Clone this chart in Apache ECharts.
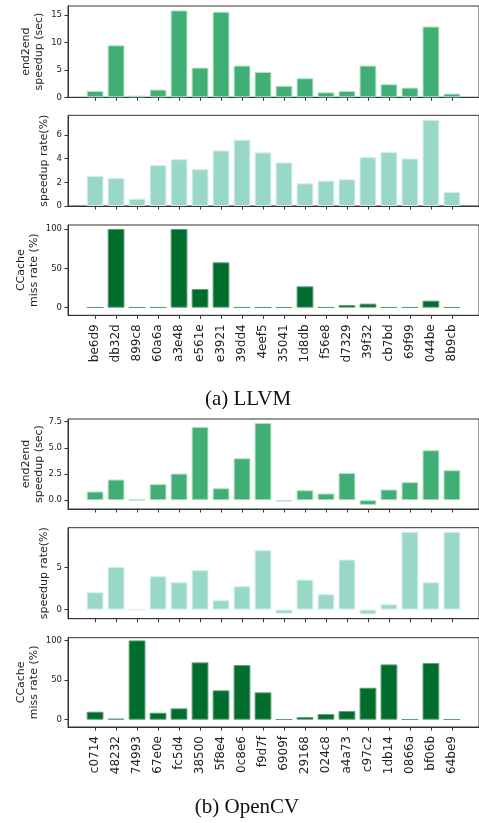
<!DOCTYPE html>
<html>
<head>
<meta charset="utf-8">
<script src="https://cdn.jsdelivr.net/npm/echarts@6/dist/echarts.min.js"></script>
<style>html,body{margin:0;padding:0;background:#fff}#c{width:479px;height:823px}</style>
</head>
<body>
<div id="c"></div>
<script>
// ---- data ----
const llvmCommits = ['be6d9','db32d','899c8','60a6a','a3e48','e561e','e3921','39dd4','4eef5','35041','1d8db','f56e8','d7329','39f32','cb7bd','69f99','044be','8b9cb'];
const llvmEnd2end = [1.15, 9.45, 0.3, 1.4, 15.8, 5.4, 15.55, 5.77, 4.6, 2.1, 3.46, 0.9, 1.15, 5.77, 2.37, 1.76, 12.87, 0.67];
const llvmRate = [2.55, 2.38, 0.62, 3.45, 3.96, 3.11, 4.7, 5.6, 4.53, 3.68, 1.92, 2.15, 2.26, 4.13, 4.56, 4.02, 7.3, 1.19];
const llvmMiss = [0.5, 100, 0.5, 0.5, 100, 23.7, 57.6, 0.5, 0.5, 0.5, 27.1, 0.5, 3.4, 5.1, 0.5, 0.5, 8.9, 0.5];

const cvCommits = ['c0714','48232','74993','67e0e','fc5d4','38500','5f8e4','0c8e6','f9d7f','6909f','29168','024c8','a4a73','c97c2','1db14','0866a','bf06b','64be9'];
const cvEnd2end = [0.83, 1.97, 0.06, 1.53, 2.54, 6.99, 1.14, 4.0, 7.37, -0.12, 0.95, 0.64, 2.6, -0.45, 1.02, 1.72, 4.77, 2.86];
const cvRate = [2.06, 5.08, 0, 3.97, 3.25, 4.68, 1.11, 2.78, 7.06, -0.48, 3.57, 1.83, 5.95, -0.56, 0.63, 9.25, 3.25, 9.25];
const cvMiss = [10.1, 1.3, 100, 8.8, 14.3, 72.3, 37, 68.9, 34.5, 0.5, 3.4, 7.1, 10.9, 40.3, 69.7, 0.5, 71.4, 0.5];

const ticksEnd2endLLVM = [0, 5, 10, 15];
const ticksRateLLVM = [0, 2, 4, 6];
const ticksMiss = [0, 50, 100];
const ticksEnd2endCV = [0, 2.5, 5, 7.5];
const ticksRateCV = [0, 5];

const nameEnd2end = 'end2end\nspeedup (sec)';
const nameRate = 'speedup rate(%)';
const nameMiss = 'CCache\nmiss rate (%)';
const captionA = '(a) LLVM';
const captionB = '(b) OpenCV';

// ---- layout ----
const C1 = '#41ae76', C2 = '#99d8c9', C3 = '#006d2c';
const E1 = '#b3e0c6', E2 = '#d6f0e9', E3 = '#5f9e79';
const panels = [
  {cats: llvmCommits, vals: llvmEnd2end, color: C1, edge: E1, top: 6, h: 91.3, ymin: 0, ymax: 16.6, ticks: ticksEnd2endLLVM, name: nameEnd2end, gap: 22, labels: false, fmt: v => String(v)},
  {cats: llvmCommits, vals: llvmRate, color: C2, edge: E2, top: 115.3, h: 90.7, ymin: 0, ymax: 7.67, ticks: ticksRateLLVM, name: nameRate, gap: 17, labels: false, fmt: v => String(v)},
  {cats: llvmCommits, vals: llvmMiss, color: C3, edge: E3, top: 225, h: 90.3, ymin: -9.7, ymax: 105, ticks: ticksMiss, name: nameMiss, gap: 27, labels: true, fmt: v => String(v)},
  {cats: cvCommits, vals: cvEnd2end, color: C1, edge: E1, top: 419, h: 90, ymin: -0.84, ymax: 7.75, ticks: ticksEnd2endCV, name: nameEnd2end, gap: 22, labels: false, fmt: v => v.toFixed(1)},
  {cats: cvCommits, vals: cvRate, color: C2, edge: E2, top: 527.7, h: 91, ymin: -1.08, ymax: 9.73, ticks: ticksRateCV, name: nameRate, gap: 17, labels: false, fmt: v => String(v)},
  {cats: cvCommits, vals: cvMiss, color: C3, edge: E3, top: 637.7, h: 89.3, ymin: -9.2, ymax: 103.4, ticks: ticksMiss, name: nameMiss, gap: 27, labels: true, fmt: v => String(v)}
];

const FONT = 'DejaVu Sans';
const grid = [], xAxis = [], yAxis = [], series = [];
panels.forEach((p, k) => {
  const n = p.cats.length;
  const idx = p.cats.map((_, i) => i);
  const span = (n - 1) + 0.8;
  grid.push({left: 68, right: -4, top: p.top, height: p.h, show: true, borderColor: '#333', borderWidth: 1, containLabel: false});
  xAxis.push({
    type: 'value', gridIndex: k, min: -0.4 - 0.05 * span, max: n - 1 + 0.4 + 0.05 * span,
    splitLine: {show: false},
    axisLine: {show: true, onZero: false, lineStyle: {color: '#333', width: 1}},
    axisTick: {show: true, customValues: idx, length: 3.5, lineStyle: {color: '#333'}},
    axisLabel: p.labels ? {show: true, customValues: idx, rotate: 90, margin: 9, fontFamily: FONT, fontSize: 12, color: '#222',
      formatter: v => p.cats[Math.round(v)]} : {show: false}
  });
  yAxis.push({
    type: 'value', gridIndex: k, min: p.ymin, max: p.ymax,
    name: p.name, nameLocation: 'middle', nameRotate: 90, nameGap: p.gap, nameMoveOverlap: false,
    nameTextStyle: {fontFamily: FONT, fontSize: 11, color: '#222', lineHeight: 13, align: 'center'},
    splitLine: {show: false},
    axisLine: {show: true, onZero: false, lineStyle: {color: '#333', width: 1}},
    axisTick: {show: true, customValues: p.ticks, length: 3.5, lineStyle: {color: '#333'}},
    axisLabel: {show: true, customValues: p.ticks, margin: 6, fontFamily: FONT, fontSize: 8.5, color: '#222', formatter: p.fmt}
  });
  series.push({
    type: 'bar', xAxisIndex: k, yAxisIndex: k, barWidth: '80%',
    data: p.vals.map((v, i) => [i, v]),
    itemStyle: {color: p.color, borderColor: p.edge, borderWidth: 1},
    silent: true, animation: false
  });
});

const chart = echarts.init(document.getElementById('c'), null, {renderer: 'canvas'});
chart.setOption({
  animation: false,
  backgroundColor: '#fff',
  grid, xAxis, yAxis, series,
  graphic: [
    {type: 'text', x: 248, y: 399, style: {text: captionA, font: '21px "Liberation Serif"', fill: '#111', textAlign: 'center', textVerticalAlign: 'middle'}},
    {type: 'text', x: 247, y: 807, style: {text: captionB, font: '21px "Liberation Serif"', fill: '#111', textAlign: 'center', textVerticalAlign: 'middle'}}
  ]
});
</script>
</body>
</html>
